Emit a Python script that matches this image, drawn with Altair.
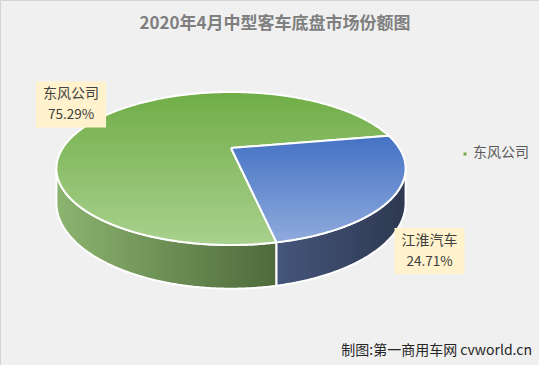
import numpy as np
import pandas as pd
import altair as alt

# ---------------- data ----------------
categories = ["东风公司", "江淮汽车"]
shares = [75.29, 24.71]
share_text = ["75.29%", "24.71%"]
legend_items = ["东风公司"]
title_text = "2020年4月中型客车底盘市场份额图"
credit_text = "制图:第一商用车网 cvworld.cn"

# ---------------- layout / style ----------------
W, H = 539, 365
CX, CY = 231.0, 148.0          # pie vertex (px)
RX, RY = 168.2, 71.0           # projected radii (px)
K = -0.268                     # perspective factor
DEPTH = 32.0                   # thickness (px, before perspective)
START_DEG = 78.5               # where the first slice starts (clockwise from 3 o'clock)
STEP = 0.5
LABEL_OFFSETS = [(-38.7, -9.0), (34.5, 56.3)]   # px, from rim midpoint to label-box centre
BOX_W, BOX_H = 70, 46
FONT = "Noto Sans CJK SC"


def lin(c0, c1, vertical=True):
    return alt.Gradient(
        gradient="linear",
        stops=[alt.GradientStop(color=c0, offset=0), alt.GradientStop(color=c1, offset=1)],
        x1=0, y1=0, x2=0 if vertical else 1, y2=1 if vertical else 0,
    )


TOP_FILLS = [lin("#70ad47", "#a9d18e"), lin("#4472c4", "#8faadc")]
SIDE_FILLS = [lin("#8cb46f", "#4e6a3b", vertical=False), lin("#45567c", "#2e3850", vertical=False)]


def rim(theta_deg, drop=0.0):
    t = np.radians(np.asarray(theta_deg, dtype=float))
    u, v = np.cos(t), np.sin(t)
    den = 1.0 + K * v
    x = u / den
    y = -((RY / RX) * v + drop / RX) / den
    return x, y


total = float(sum(shares))
ends = START_DEG + 360.0 * np.cumsum(shares) / total
starts = np.concatenate([[START_DEG], ends[:-1]])

theta_s = np.degrees(np.arcsin(-K))
front = (theta_s, 180.0 - theta_s)


def arc_angles(a, b):
    n = max(2, int(np.ceil((b - a) / STEP)) + 1)
    return np.linspace(a, b, n)


top_frames, side_frames, label_rows = [], [], []
for k, (a, b) in enumerate(zip(starts, ends)):
    th = arc_angles(a, b)
    rx, ry = rim(th)
    xs_ = np.concatenate([[0.0], rx, [0.0]])
    ys_ = np.concatenate([[0.0], ry, [0.0]])
    top_frames.append(pd.DataFrame({"x": xs_, "y": ys_, "i": np.arange(len(xs_))}))

    pieces = []
    for off in (0.0, 360.0):
        lo, hi = max(a, front[0] + off), min(b, front[1] + off)
        if hi > lo:
            pieces.append((lo, hi))
    sx, sy = [], []
    for lo, hi in pieces:
        th2 = arc_angles(lo, hi)
        tx, ty = rim(th2)
        bx, by = rim(th2[::-1], DEPTH)
        sx = np.concatenate([tx, bx, tx[:1]])
        sy = np.concatenate([ty, by, ty[:1]])
    side_frames.append(pd.DataFrame({"x": sx, "y": sy, "i": np.arange(len(sx))}))

    mx, my = rim((a + b) / 2.0)
    cx = float(mx) + LABEL_OFFSETS[k][0] / RX
    cy = float(my) - LABEL_OFFSETS[k][1] / RX
    label_rows.append({
        "name": categories[k], "pct": share_text[k],
        "cx": cx, "cy": cy,
        "x0": cx - BOX_W / 2 / RX, "x1": cx + BOX_W / 2 / RX,
        "y0": cy - BOX_H / 2 / RX, "y1": cy + BOX_H / 2 / RX,
    })

labels = pd.DataFrame(label_rows)

xscale = alt.Scale(domain=[-CX / RX, (W - CX) / RX], nice=False, zero=False)
yscale = alt.Scale(domain=[-(H - CY) / RX, CY / RX], nice=False, zero=False)


def poly(df, fill):
    return alt.Chart(df).mark_line(
        fill=fill, stroke="white", strokeWidth=2, strokeJoin="round", interpolate="linear"
    ).encode(
        x=alt.X("x:Q", scale=xscale, axis=None),
        y=alt.Y("y:Q", scale=yscale, axis=None),
        order=alt.Order("i:Q"),
    )


layers = []
for k in range(len(categories)):
    layers.append(poly(side_frames[k], SIDE_FILLS[k]))
for k in range(len(categories)):
    layers.append(poly(top_frames[k], TOP_FILLS[k]))

boxes = alt.Chart(labels).mark_rect(fill="#fff2cc", stroke=None).encode(
    x=alt.X("x0:Q", scale=xscale, axis=None), x2="x1:Q",
    y=alt.Y("y0:Q", scale=yscale, axis=None), y2="y1:Q",
)
names = alt.Chart(labels).mark_text(font=FONT, fontSize=14, color="#404040", dy=-10).encode(
    x=alt.X("cx:Q", scale=xscale, axis=None), y=alt.Y("cy:Q", scale=yscale, axis=None), text="name:N"
)
pcts = alt.Chart(labels).mark_text(font=FONT, fontSize=13.5, color="#404040", dy=11).encode(
    x=alt.X("cx:Q", scale=xscale, axis=None), y=alt.Y("cy:Q", scale=yscale, axis=None), text="pct:N"
)

title = alt.Chart(pd.DataFrame({"t": [title_text]})).mark_text(
    font=FONT, fontSize=17, fontWeight="bold", color="#7f7f7f", align="center", baseline="middle"
).encode(x=alt.value(275), y=alt.value(24), text="t:N")

legend_df = pd.DataFrame({"t": legend_items})
legend_mark = alt.Chart(legend_df).mark_square(size=9, color="#70ad47", opacity=1).encode(
    x=alt.value(465), y=alt.value(154)
)
legend_text = alt.Chart(legend_df).mark_text(
    font=FONT, fontSize=14, color="#595959", align="left", baseline="middle"
).encode(x=alt.value(473), y=alt.value(153), text="t:N")

credit = alt.Chart(pd.DataFrame({"t": [credit_text]})).mark_text(
    font=FONT, fontSize=14, color="#262626", align="right", baseline="middle"
).encode(x=alt.value(532), y=alt.value(351), text="t:N")

chart = alt.layer(*layers, boxes, names, pcts, title, legend_mark, legend_text, credit).properties(
    width=W, height=H, padding=0, autosize=alt.AutoSizeParams(type="none"), background="#f0f0f0"
).configure_view(stroke="#d4d4d4", strokeWidth=1)

chart.save("out.html", embed_options={"renderer": "svg", "actions": False})
